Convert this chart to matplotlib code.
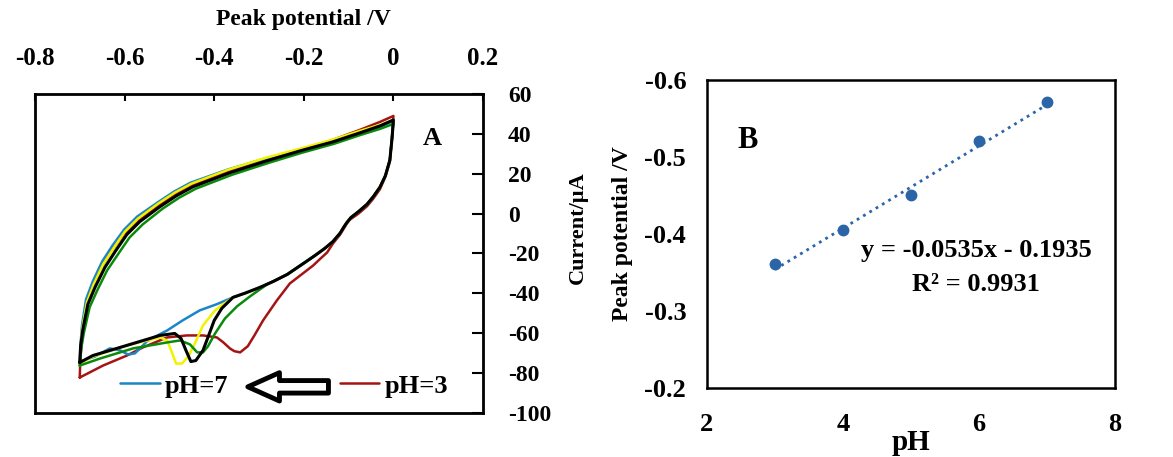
import numpy as np
import matplotlib
matplotlib.use('Agg')
import matplotlib.pyplot as plt
from matplotlib.ticker import FuncFormatter

plt.rcParams['font.family'] = 'Liberation Serif'
plt.rcParams['font.weight'] = 'bold'
plt.rcParams['axes.unicode_minus'] = False

# ---- panel A: cyclic voltammograms (E in V, I in uA) ----
# forward (anodic) sweep, -0.7 V -> 0 V
up_E_blue = [-0.700, -0.698, -0.695, -0.686, -0.671, -0.650, -0.627, -0.601, -0.572, -0.527, -0.490, -0.453, -0.371, -0.288, -0.212, -0.138, -0.075, -0.030, 0.000]
up_I_blue = [-74.2, -65.0, -56.0, -43.0, -34.0, -24.0, -16.0, -8.0, -1.5, 5.5, 11.0, 15.5, 22.0, 27.5, 32.0, 36.5, 40.5, 43.5, 46.5]
up_E_yellow = [-0.700, -0.698, -0.694, -0.684, -0.669, -0.648, -0.625, -0.599, -0.570, -0.525, -0.488, -0.451, -0.369, -0.285, -0.210, -0.137, -0.075, -0.030, 0.000]
up_I_yellow = [-75.2, -66.0, -57.0, -44.5, -35.5, -25.5, -17.5, -9.0, -2.5, 5.0, 10.5, 15.0, 22.0, 28.0, 32.5, 37.0, 41.5, 44.5, 47.0]
up_E_red = [-0.700, -0.699, -0.696, -0.690, -0.677, -0.657, -0.632, -0.600, -0.568, -0.523, -0.486, -0.449, -0.367, -0.283, -0.208, -0.135, -0.075, -0.030, 0.000]
up_I_red = [-82.2, -74.0, -66.0, -52.0, -40.0, -29.0, -19.5, -10.0, -3.0, 4.5, 10.0, 14.3, 21.3, 27.0, 32.0, 37.0, 42.0, 46.0, 49.0]
up_E_black = [-0.700, -0.698, -0.693, -0.682, -0.666, -0.644, -0.621, -0.595, -0.566, -0.521, -0.484, -0.447, -0.365, -0.282, -0.208, -0.135, -0.075, -0.030, 0.000]
up_I_black = [-74.7, -66.0, -58.0, -45.5, -37.0, -27.0, -19.0, -10.5, -4.0, 3.5, 9.0, 13.5, 20.5, 26.5, 31.5, 36.0, 40.5, 44.0, 47.0]
up_E_green = [-0.700, -0.697, -0.691, -0.678, -0.661, -0.639, -0.615, -0.589, -0.560, -0.515, -0.478, -0.441, -0.360, -0.278, -0.205, -0.133, -0.073, -0.030, 0.000]
up_I_green = [-76.2, -68.0, -60.0, -47.0, -38.5, -28.5, -20.5, -12.0, -5.5, 2.5, 8.0, 12.5, 19.5, 25.5, 30.5, 35.0, 39.5, 42.5, 45.0]

# reverse (cathodic) sweep, shared part 0 V -> -0.36 V
rev_E_common = [-0.001, -0.003, -0.008, -0.018, -0.030, -0.045, -0.059, -0.078, -0.095, -0.104, -0.110, -0.119, -0.135, -0.153, -0.175, -0.197, -0.237]
rev_I_common = [44.0, 38.0, 26.8, 19.0, 13.3, 8.5, 4.7, 1.0, -2.0, -4.5, -6.5, -9.8, -14.0, -17.4, -21.0, -24.4, -30.5]
rev_E_mid = [-0.268, -0.298, -0.330, -0.358]
rev_I_mid = [-34.0, -37.0, -39.8, -42.0]

rev_E_blue = [-0.395, -0.432, -0.470, -0.505, -0.530, -0.550, -0.565, -0.577, -0.592, -0.610, -0.633, -0.666, -0.700]
rev_I_blue = [-45.5, -48.5, -53.5, -58.6, -61.5, -64.0, -67.5, -70.1, -70.7, -68.6, -67.6, -71.7, -74.2]
rev_E_yellow = [-0.380, -0.398, -0.425, -0.443, -0.458, -0.472, -0.485, -0.496, -0.505, -0.521, -0.595, -0.671, -0.700]
rev_I_yellow = [-45.5, -48.5, -56.1, -65.1, -71.7, -75.2, -75.2, -68.6, -63.6, -62.1, -66.1, -71.7, -75.2]
rev_E_black = [-0.383, -0.400, -0.414, -0.425, -0.441, -0.452, -0.463, -0.474, -0.488, -0.521, -0.595, -0.671, -0.700]
rev_I_black = [-47.5, -53.6, -62.1, -68.6, -73.7, -74.2, -68.6, -62.6, -60.1, -61.1, -66.1, -71.2, -74.7]
rev_E_green = [-0.282, -0.320, -0.349, -0.376, -0.398, -0.414, -0.425, -0.438, -0.454, -0.476, -0.505, -0.581, -0.655, -0.700]
rev_I_green = [-35.5, -41.5, -46.5, -52.6, -60.1, -66.6, -69.6, -69.6, -65.6, -63.6, -64.6, -67.6, -72.7, -76.2]
rev_E_red = [-0.001, -0.003, -0.008, -0.018, -0.030, -0.045, -0.059, -0.078, -0.097, -0.104, -0.119, -0.135, -0.148, -0.165, -0.179,
             -0.205, -0.231, -0.260, -0.291, -0.310, -0.325, -0.342, -0.355, -0.365, -0.380, -0.394, -0.425, -0.461, -0.505,
             -0.559, -0.595, -0.648, -0.700]
rev_I_red = [45.0, 39.0, 26.0, 18.5, 12.3, 7.5, 3.7, 0.0, -3.0, -5.0, -10.5, -15.0, -19.5, -23.0, -26.0,
             -30.5, -35.0, -43.5, -53.6, -61.0, -66.5, -69.6, -69.0, -67.6, -64.5, -62.1, -61.1, -61.1, -62.1,
             -67.1, -71.2, -76.2, -82.2]

x_ticks_a = [-0.8, -0.6, -0.4, -0.2, 0, 0.2]
x_ticklabels_a = ['-0.8', '-0.6', '-0.4', '-0.2', '0', '0.2']

# ---- panel B: peak potential vs pH ----
ph = [3, 4, 5, 6, 7]
peak_pot = [-0.361, -0.405, -0.451, -0.521, -0.571]
slope = -0.0535
intercept = -0.1935
r2 = 0.9931

fig = plt.figure(figsize=(11.73, 4.57), dpi=100)

# panel A
ax = fig.add_axes([0.0298, 0.0963, 0.382, 0.698])
curves = [
    ('#a31515', up_E_red, up_I_red, rev_E_red, rev_I_red),
    ('#1a86c8', up_E_blue, up_I_blue, rev_E_common + rev_E_mid + rev_E_blue, rev_I_common + rev_I_mid + rev_I_blue),
    ('#f2f200', up_E_yellow, up_I_yellow, rev_E_common + rev_E_mid + rev_E_yellow, rev_I_common + rev_I_mid + rev_I_yellow),
    ('#0a8a0a', up_E_green, up_I_green, rev_E_common + rev_E_green, rev_I_common + rev_I_green),
    ('black', up_E_black, up_I_black, rev_E_common + rev_E_mid + rev_E_black, rev_I_common + rev_I_mid + rev_I_black),
]
lines = {}
for col, ue, ui, re_, ri in curves:
    ln, = ax.plot(ue + re_, ui + ri, color=col, lw=1.8 if col != 'black' else 2.2,
                  solid_joinstyle='round', solid_capstyle='round')
    lines[col] = ln

ax.set_xlim(-0.8, 0.2)
ax.set_ylim(-100, 60)
ax.set_xticks(x_ticks_a)
ax.set_xticklabels(x_ticklabels_a)
ax.set_yticks(np.arange(-100, 61, 20))
ax.xaxis.tick_top()
ax.yaxis.tick_right()
ax.tick_params(axis='x', direction='in', length=5, width=1.5, pad=17, labelsize=18)
ax.tick_params(axis='y', direction='in', length=8, width=1.5, pad=18, labelsize=17)
for t in ax.get_yticklabels():
    t.set_horizontalalignment('left')
for s in ax.spines.values():
    s.set_linewidth(2)
ax.set_xlabel('Peak potential /V', fontsize=17, fontweight='bold')
ax.xaxis.set_label_position('top')
ax.xaxis.set_label_coords(0.598, 1.215)
ax.set_ylabel('Current/\u00b5A', fontsize=16, fontweight='bold')
ax.yaxis.set_label_position('right')
ax.yaxis.set_label_coords(1.19, 0.58)
ax.text(0.887, 0.861, 'A', transform=ax.transAxes, fontsize=19, fontweight='bold', ha='center', va='center')

leg1 = ax.legend([lines['#1a86c8']], ['pH=7'], loc='center left', bbox_to_anchor=(0.19, 0.085),
                 frameon=False, fontsize=19, handlelength=1.5, handletextpad=0.2, borderpad=0, borderaxespad=0)
ax.add_artist(leg1)
ax.legend([lines['#a31515']], ['pH=3'], loc='center left', bbox_to_anchor=(0.68, 0.085),
          frameon=False, fontsize=19, handlelength=1.5, handletextpad=0.2, borderpad=0, borderaxespad=0)
ax.annotate('', xy=(0.475, 0.082), xytext=(0.655, 0.082), xycoords='axes fraction',
            arrowprops=dict(arrowstyle='simple,head_length=1.9,head_width=1.7,tail_width=0.75',
                            fc='white', ec='black', lw=3.5, mutation_scale=12, shrinkA=0, shrinkB=0))

# panel B
bx = fig.add_axes([0.6027, 0.151, 0.348, 0.674])
fit_x = np.array([ph[0], ph[-1]])
bx.plot(fit_x, slope * fit_x + intercept, ls=':', color='#2b65a8', lw=2)
bx.plot(ph, peak_pot, 'o', color='#2b65a8', ms=7.5)
bx.set_xlim(2, 8)
bx.set_ylim(-0.2, -0.6)
bx.set_xticks([2, 4, 6, 8])
bx.set_yticks([-0.6, -0.5, -0.4, -0.3, -0.2])
bx.yaxis.set_major_formatter(FuncFormatter(lambda v, p: '%.1f' % v))
bx.tick_params(length=0, labelsize=19)
bx.tick_params(axis='y', pad=15)
bx.tick_params(axis='x', pad=18)
for s in bx.spines.values():
    s.set_linewidth(1.8)
bx.set_xlabel('pH', fontsize=21, fontweight='bold', labelpad=-5)
bx.set_ylabel('Peak potential /V', fontsize=17, fontweight='bold', labelpad=8)
bx.text(0.10, 0.805, 'B', transform=bx.transAxes, fontsize=22, fontweight='bold', ha='center', va='center')
bx.text(0.66, 0.445, 'y = -0.0535x - 0.1935', transform=bx.transAxes, fontsize=19, fontweight='bold',
        ha='center', va='center')
bx.text(0.66, 0.337, 'R\u00b2 = %.4f' % r2, transform=bx.transAxes, fontsize=19, fontweight='bold',
        ha='center', va='center')

fig.savefig('out.png', dpi=100)
